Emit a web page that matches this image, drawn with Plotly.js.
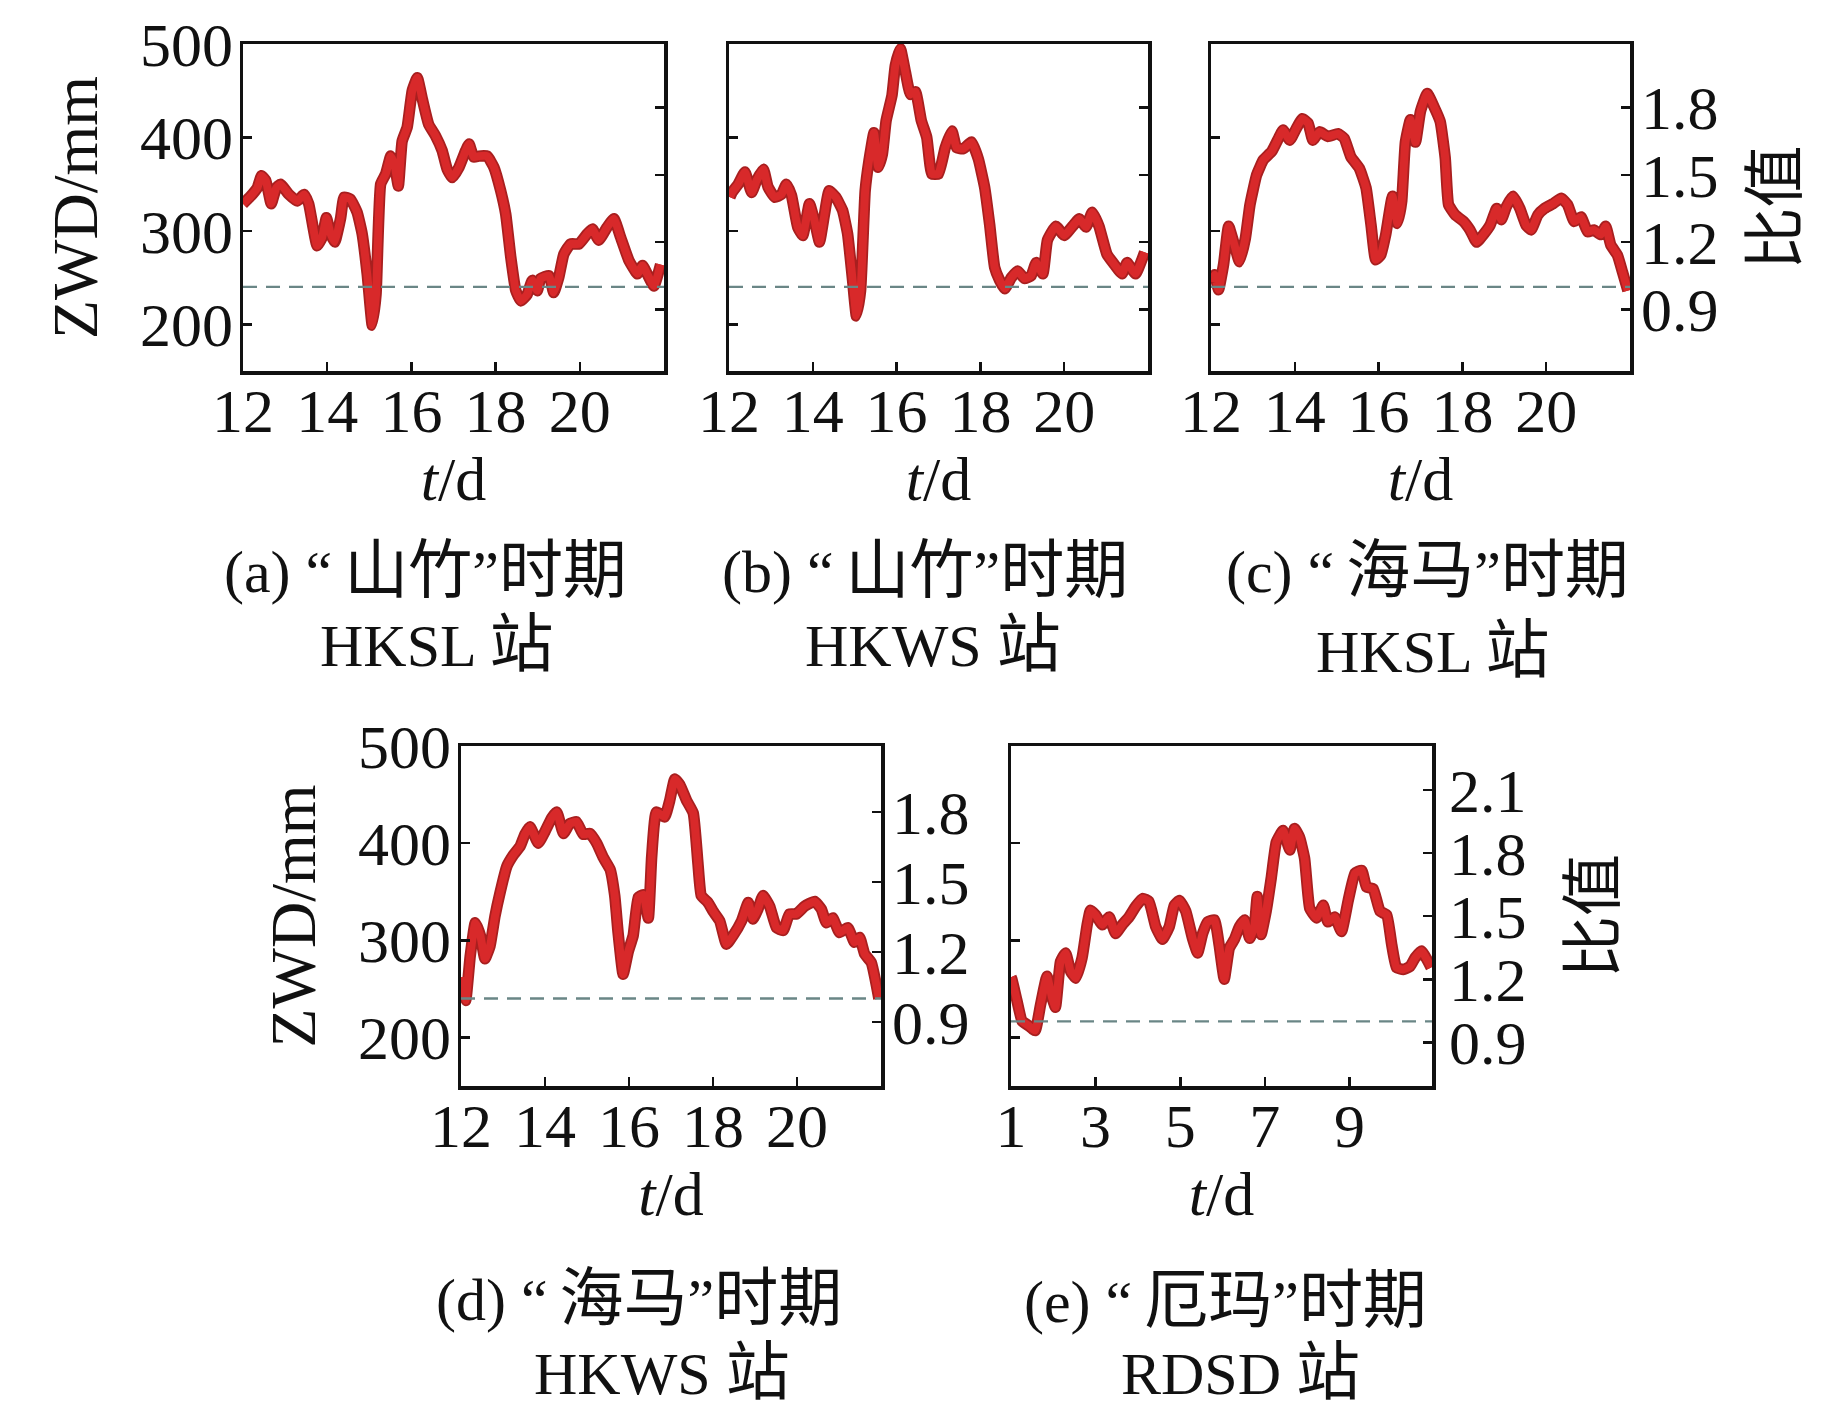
<!DOCTYPE html>
<html>
<head>
<meta charset="utf-8">
<script src="https://cdn.plot.ly/plotly-3.0.1.min.js"></script>
<style>html,body{margin:0;padding:0;background:#fff;}#chart{width:1843px;height:1417px;}</style>
</head>
<body>
<div id="chart"></div>
<script>
// ---------------- data ----------------
// (a) Mangkhut, HKSL
const tA = [12.0,12.16,12.34,12.44,12.54,12.67,12.79,12.89,13.09,13.29,13.45,13.56,13.76,13.88,13.98,14.08,14.18,14.32,14.40,14.55,14.71,14.83,14.95,15.07,15.16,15.27,15.39,15.51,15.61,15.69,15.78,15.90,16.02,16.14,16.26,16.41,16.57,16.73,16.85,16.97,17.13,17.29,17.37,17.48,17.60,17.80,17.96,18.12,18.24,18.36,18.48,18.60,18.75,18.87,18.99,19.07,19.27,19.38,19.50,19.62,19.78,19.98,20.18,20.30,20.45,20.65,20.81,20.97,21.17,21.37,21.49,21.60,21.76,21.92];
const zA = [329,336,346,359,354,329,346,350,339,332,339,329,284,293,314,297,288,314,336,334,320,297,254,199,232,350,361,380,368,348,396,411,450,464,441,414,402,386,366,357,368,386,393,379,380,380,368,343,318,272,236,225,232,247,236,249,252,234,250,275,286,286,297,302,290,304,313,293,268,254,263,254,241,264];
// (b) Mangkhut, HKWS
const tB = [12.02,12.07,12.22,12.38,12.54,12.66,12.82,12.93,13.09,13.25,13.37,13.49,13.64,13.76,13.92,14.04,14.16,14.28,14.39,14.55,14.71,14.83,14.95,15.04,15.14,15.25,15.34,15.46,15.56,15.66,15.75,15.89,15.97,16.09,16.21,16.33,16.45,16.59,16.72,16.84,17.00,17.16,17.32,17.43,17.59,17.79,17.95,18.10,18.22,18.34,18.46,18.58,18.74,18.89,19.05,19.21,19.33,19.49,19.60,19.80,20.00,20.20,20.36,20.52,20.67,20.83,21.02,21.18,21.38,21.50,21.70,21.92];
const zB = [336,341,350,363,341,354,366,347,336,339,350,338,304,295,329,311,288,318,343,336,322,297,247,209,236,343,375,405,368,382,418,445,477,495,470,446,449,418,400,361,361,389,407,389,388,395,377,347,307,261,247,238,250,257,249,252,266,254,290,305,295,305,313,304,320,305,275,265,254,266,254,277];
// (c) Haima, HKSL
const tC = [12.03,12.09,12.18,12.30,12.42,12.54,12.68,12.82,12.93,13.09,13.25,13.45,13.61,13.72,13.88,14.04,14.18,14.32,14.43,14.59,14.79,15.03,15.18,15.34,15.54,15.70,15.82,15.93,16.05,16.17,16.33,16.45,16.55,16.64,16.76,16.88,17.00,17.16,17.32,17.47,17.59,17.67,17.83,18.03,18.18,18.34,18.50,18.66,18.82,18.93,19.05,19.21,19.37,19.52,19.64,19.80,19.96,20.16,20.36,20.51,20.67,20.83,20.99,21.14,21.30,21.42,21.54,21.70,21.82,21.95];
const zC = [245,253,237,264,305,288,267,292,328,360,376,385,399,408,397,410,420,415,397,406,401,404,399,379,367,346,306,269,274,296,337,308,331,395,419,395,428,447,433,417,378,328,317,310,301,288,296,306,324,312,326,337,324,306,301,317,324,329,335,328,310,315,299,301,296,305,285,274,256,236];
// (d) Haima, HKWS
const tD = [12.0,12.02,12.11,12.22,12.34,12.46,12.57,12.69,12.81,12.93,13.09,13.25,13.41,13.52,13.64,13.84,14.00,14.16,14.28,14.44,14.59,14.75,14.91,15.07,15.23,15.39,15.55,15.66,15.74,15.86,15.98,16.10,16.22,16.34,16.46,16.54,16.65,16.85,16.97,17.09,17.21,17.37,17.53,17.64,17.72,17.88,18.00,18.16,18.32,18.48,18.68,18.84,18.95,19.07,19.19,19.35,19.51,19.67,19.82,19.98,20.18,20.42,20.58,20.70,20.85,21.01,21.21,21.37,21.49,21.61,21.77,21.95];
const zD = [262,254,238,284,318,305,281,294,325,349,376,388,397,409,417,400,412,426,432,410,420,422,409,410,400,385,373,346,308,265,288,305,344,347,323,386,432,427,444,466,460,444,431,380,346,339,330,320,296,305,320,339,322,332,346,335,313,310,327,327,335,340,332,318,323,308,313,298,303,286,277,240];
// (e) Ewiniar, RDSD
const tE = [1.0,1.02,1.14,1.26,1.42,1.57,1.70,1.85,1.97,2.05,2.17,2.29,2.41,2.53,2.68,2.80,2.88,3.00,3.16,3.32,3.47,3.63,3.79,3.95,4.11,4.26,4.42,4.58,4.74,4.86,4.98,5.13,5.29,5.41,5.53,5.65,5.81,5.92,6.04,6.16,6.28,6.40,6.52,6.64,6.75,6.82,6.91,7.03,7.15,7.27,7.43,7.59,7.70,7.82,7.94,8.06,8.22,8.38,8.49,8.65,8.81,8.97,9.13,9.29,9.40,9.56,9.72,9.88,10.00,10.11,10.27,10.43,10.55,10.70,10.93];
const zE = [262,260,238,217,212,207,234,263,241,231,278,287,268,261,282,316,331,326,316,324,307,316,324,335,343,340,314,301,314,336,341,330,302,287,307,319,321,295,260,292,301,314,321,302,314,345,306,330,364,401,413,393,415,406,384,333,323,336,319,324,309,341,369,372,355,353,330,326,295,272,270,273,282,289,272];

// tick values / labels
const tickDays1 = [12,14,16,18,20];
const tickDays2 = [1,3,5,7,9];
const zwdTicks = [200,300,400,500];
const ratioTicks1 = [0.9,1.2,1.5,1.8];
const ratioTicks2 = [0.9,1.2,1.5,1.8,2.1];
const baseZWD = [240,240,240,240,216.5];   // ZWD value corresponding to ratio 1
const typhoon = ['山竹','山竹','海马','海马','厄玛'];
const letters = ['(a)','(b)','(c)','(d)','(e)'];
const stations = ['HKSL','HKWS','HKSL','HKWS','RDSD'];

// ---------------- layout helpers ----------------
const W = 1843, H = 1417;
const FONT = "'Liberation Serif', 'Times New Roman', 'Noto Sans CJK SC', serif";
const CJK = (s) => '<span style="font-size:64px">' + s + '</span>';
const boxes = [ // [left, right, top, bottom] in pixels
  [243, 664, 44, 371],
  [729, 1148, 44, 371],
  [1211, 1630, 44, 371],
  [461, 881, 746, 1086],
  [1011, 1432, 746, 1086]
];
const capPos1 = [[425,570],[925,570],[1427,570],[639,1298],[1225,1300]];
const capPos2 = [[436,644],[933,644],[1432,650],[662,1372],[1240,1372]];
const xRanges = [[12,22],[12,22],[12,22],[12,22],[1,10.95]];
const showLeft = [true,false,false,true,false];
const showRight = [false,false,true,true,true];
const rightTitle = [false,false,true,false,true];
const rightStandoff = [8,8,10,10,16];
const rightTitleStandoff = [36,36,36,36,46];

const series = [[tA,zA],[tB,zB],[tC,zC],[tD,zD],[tE,zE]];

const traces = [];
const layout = {
  width: W, height: H,
  margin: {l:0, r:0, t:0, b:0},
  paper_bgcolor: '#fff', plot_bgcolor: '#fff',
  showlegend: false,
  font: {family: FONT, size: 60, color: '#111'},
  annotations: []
};

for (let i = 0; i < 5; i++) {
  const n = i + 1;
  const xa = 'x' + (n === 1 ? '' : n);
  const yl = 'y' + (n === 1 ? '' : n);
  const yr = 'y' + (n + 5);
  const b = boxes[i];
  const xd = [b[0] / W, b[1] / W];
  const yd = [1 - b[3] / H, 1 - b[2] / H];
  const base = baseZWD[i];
  const rT = (i === 4) ? ratioTicks2 : ratioTicks1;

  // ratio = 1 reference (dashed)
  traces.push({
    x: xRanges[i], y: [1, 1], xaxis: xa, yaxis: yr,
    mode: 'lines', hoverinfo: 'skip',
    line: {color: '#6a8686', width: 2.4, dash: '14px,9px'}
  });
  // ZWD curve: dark rim + red core
  traces.push({
    x: series[i][0], y: series[i][1], xaxis: xa, yaxis: yl,
    mode: 'lines', hoverinfo: 'skip',
    line: {color: '#a81f1f', width: 11.5, shape: 'spline', smoothing: 0.4}
  });
  traces.push({
    x: series[i][0], y: series[i][1], xaxis: xa, yaxis: yl,
    mode: 'lines', hoverinfo: 'skip',
    line: {color: '#d8292a', width: 8, shape: 'spline', smoothing: 0.4}
  });

  const axisCommon = {
    showgrid: false, zeroline: false,
    ticks: 'inside', ticklen: 9, tickwidth: 2.5, tickcolor: '#111',
    tickfont: {family: FONT, size: 62, color: '#111'}
  };

  layout['xaxis' + (n === 1 ? '' : n)] = Object.assign({}, axisCommon, {
    domain: xd, anchor: yl, range: xRanges[i],
    tickmode: 'array', tickvals: (i === 4 ? tickDays2 : tickDays1),
    ticktext: (i === 4 ? tickDays2 : tickDays1).map(String),
    showline: true, linewidth: 3.5, linecolor: '#111', mirror: true,
    ticklabelstandoff: -17,
    title: {text: '<i>t</i>/d', font: {family: FONT, size: 62, color: '#111'}, standoff: 10}
  });

  layout['yaxis' + (n === 1 ? '' : n)] = Object.assign({}, axisCommon, {
    domain: yd, anchor: xa, range: [150, 500],
    tickmode: 'array', tickvals: zwdTicks, ticktext: zwdTicks.map(String),
    showticklabels: showLeft[i],
    showline: true, linewidth: 3.5, linecolor: '#111', mirror: true,
    ticklabelstandoff: -6,
    title: showLeft[i] ? {text: 'ZWD/mm', font: {family: FONT, size: 64, color: '#111'}, standoff: 22} : {text: ''}
  });

  layout['yaxis' + (n + 5)] = Object.assign({}, axisCommon, {
    domain: yd, anchor: xa, overlaying: yl, side: 'right',
    range: [150 / base, 500 / base],
    tickmode: 'array', tickvals: rT, ticktext: rT.map(v => v.toFixed(1)),
    showticklabels: showRight[i], showline: false,
    ticklabelstandoff: rightStandoff[i],
    title: rightTitle[i] ? {text: '比值', font: {family: "'Noto Sans CJK SC', sans-serif", size: 62, color: '#111'}, standoff: rightTitleStandoff[i]} : {text: ''}
  });

  layout.annotations.push({
    xref: 'paper', yref: 'paper', x: capPos1[i][0] / W, y: 1 - capPos1[i][1] / H,
    xanchor: 'center', yanchor: 'middle', showarrow: false,
    text: letters[i] + ' “\u2009' + CJK(typhoon[i]) + '”' + CJK('时期'),
    font: {family: FONT, size: 60, color: '#111'}
  });
  layout.annotations.push({
    xref: 'paper', yref: 'paper', x: capPos2[i][0] / W, y: 1 - capPos2[i][1] / H,
    xanchor: 'center', yanchor: 'middle', showarrow: false,
    text: stations[i] + ' ' + CJK('站'),
    font: {family: FONT, size: 60, color: '#111'}
  });
}

Plotly.newPlot('chart', traces, layout, {staticPlot: true, displayModeBar: false});
</script>
</body>
</html>
